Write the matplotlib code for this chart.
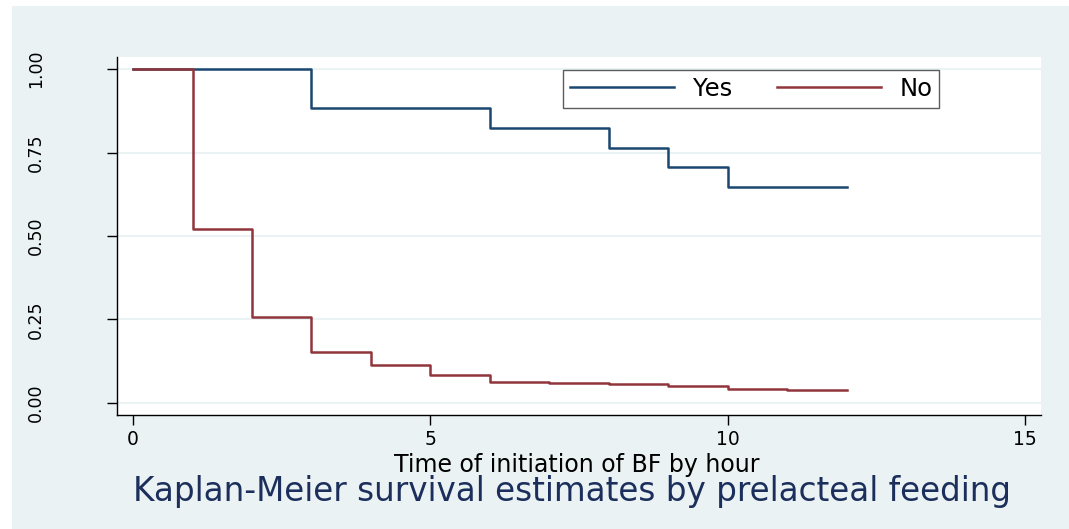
import matplotlib
matplotlib.use("Agg")
import matplotlib.pyplot as plt
from matplotlib.patches import Rectangle

# Kaplan-Meier estimates
yes_time = [0, 3, 6, 8, 9, 10, 12]
yes_surv = [1.0, 0.882, 0.824, 0.765, 0.706, 0.647, 0.647]
no_time = [0, 1, 2, 3, 4, 5, 6, 7, 8, 9, 10, 11, 12]
no_surv = [1.0, 0.521, 0.257, 0.153, 0.114, 0.084, 0.064, 0.061, 0.057,
           0.052, 0.043, 0.039, 0.039]
series_labels = ["Yes", "No"]
x_ticks = [0, 5, 10, 15]
y_ticks = [0.0, 0.25, 0.5, 0.75, 1.0]

bg = "#eaf2f3"
navy = "#1a476f"
maroon = "#90353b"

plt.rcParams["font.family"] = ["DejaVu Sans"]

fig = plt.figure(figsize=(10.69, 5.29), dpi=100)
fig.patch.set_facecolor("white")
fig.patches.append(Rectangle((12 / 1069, 0), 1, 1 - 6 / 529, transform=fig.transFigure,
                             facecolor=bg, edgecolor="none", zorder=-10))

ax = fig.add_axes([117 / 1069, 1 - 415 / 529, 924 / 1069, 358 / 529])
ax.set_facecolor("white")

ax.step(yes_time, yes_surv, where="post", color=navy, lw=1.8, label=series_labels[0])
ax.step(no_time, no_surv, where="post", color=maroon, lw=1.8, label=series_labels[1])

ax.set_xlim(-0.27, 15.27)
ax.set_ylim(-0.036, 1.036)
ax.set_xticks(x_ticks)
ax.set_yticks(y_ticks)
ax.set_yticklabels(["%.2f" % v for v in y_ticks], rotation=90, va="center")
ax.yaxis.grid(True, color=bg, lw=1.5)
ax.set_axisbelow(True)

for s in ["top", "right"]:
    ax.spines[s].set_visible(False)
for s in ["left", "bottom"]:
    ax.spines[s].set_color("black")
    ax.spines[s].set_linewidth(1.0)

ax.tick_params(axis="y", length=7, width=1, pad=45, labelsize=12.5)
ax.tick_params(axis="x", length=7, width=1, pad=4, labelsize=13.5)

ax.set_xlabel("Time of initiation of BF by hour", fontsize=17)
ax.xaxis.set_label_coords(0.498, -0.106)

leg = ax.legend(ncol=2, loc="upper left", bbox_to_anchor=(0.4827, 0.9637),
                fontsize=17.5, frameon=True, fancybox=False, handlelength=4.3,
                handletextpad=0.75, columnspacing=1.85, borderpad=0.28,
                borderaxespad=0)
leg.get_frame().set_edgecolor("#333333")
leg.get_frame().set_linewidth(1.0)

fig.text(572 / 1069, 1 - 492 / 529, "Kaplan-Meier survival estimates by prelacteal feeding",
         ha="center", va="center", fontsize=23.5, color="#1c2f5c")

fig.savefig("out.png", dpi=100, facecolor=fig.get_facecolor())
